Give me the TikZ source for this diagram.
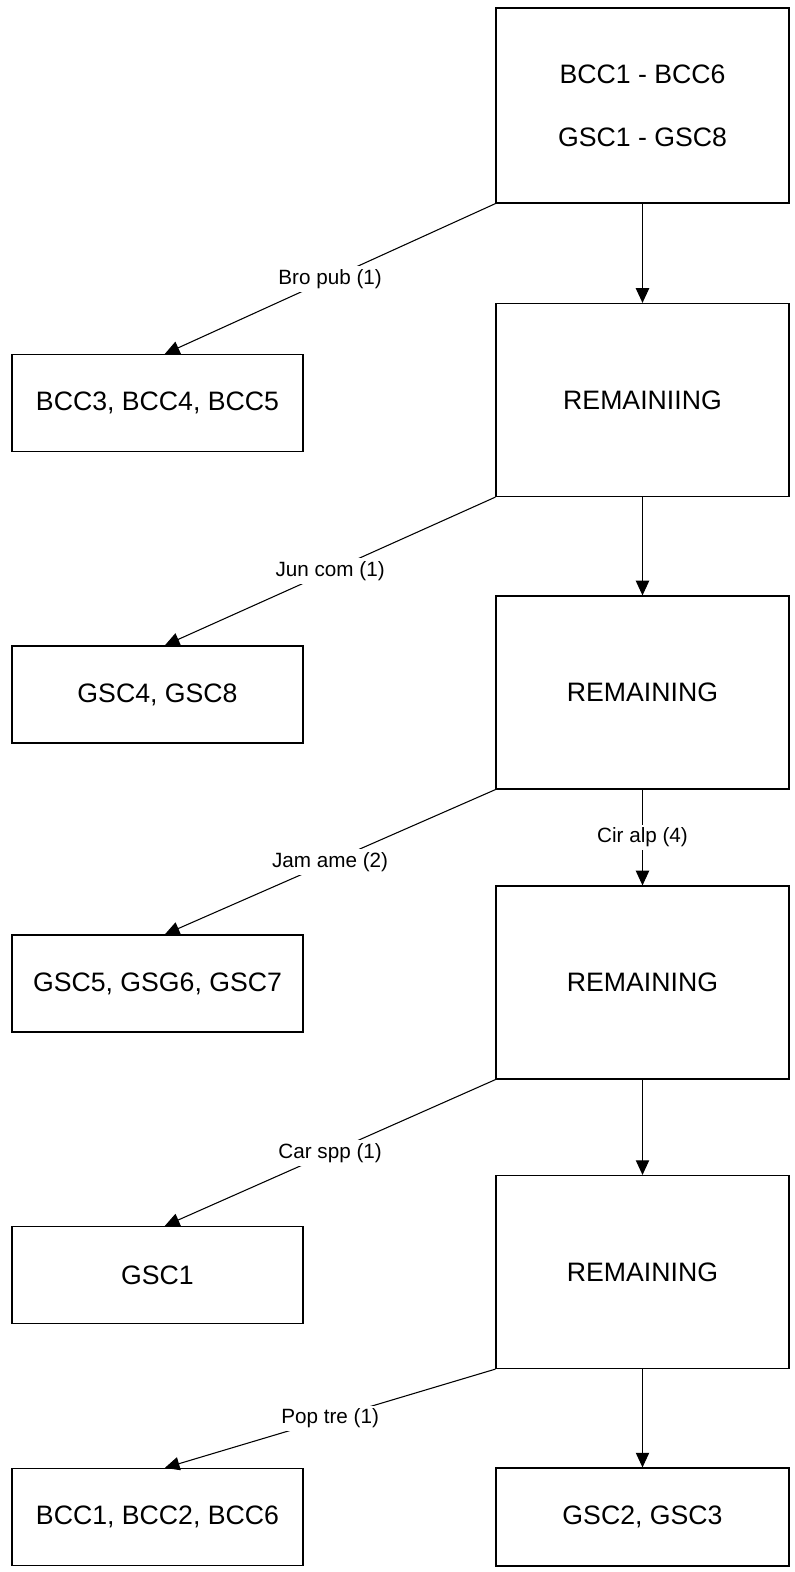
\documentclass[tikz,border=0pt]{standalone}
\usepackage{fontspec}
\setmainfont{Liberation Sans}
\usetikzlibrary{arrows.meta}

\begin{document}
\begin{tikzpicture}[x=0.75pt,y=-0.75pt]
  \tikzstyle{bigbox}=[draw,line width=0.9pt,minimum width=219.75pt,minimum height=144.75pt,font=\fontsize{20}{24}\selectfont]
  \tikzstyle{smallbox}=[draw,line width=0.9pt,minimum width=218.25pt,minimum height=72.75pt,font=\fontsize{20}{24}\selectfont]
  \tikzstyle{edgelabel}=[fill=white,inner sep=2.5pt,font=\fontsize{15.5}{18}\selectfont]
  \tikzstyle{arr}=[line width=0.8pt,-{Triangle[length=11pt,width=10pt]}]
  \useasboundingbox (0,0) rectangle (794,1572);
  % right column
  \node[bigbox,minimum height=146.25pt,align=center,font=\fontsize{20}{47}\selectfont] (all) at (642.5,105.5) {BCC1 - BCC6\\GSC1 - GSC8};
  \foreach \n/\y/\t in {r1/400/REMAINIING,r2/692.5/REMAINING,r3/982.5/REMAINING,r4/1272/REMAINING}
     \node[bigbox] (\n) at (642.5,\y) {\t};
  \node[smallbox,minimum width=219.75pt,minimum height=73.5pt] (last) at (642.5,1517) {GSC2, GSC3};
  % left column
  \foreach \n/\y/\t in {l1/403/{BCC3, BCC4, BCC5},l2/694.5/{GSC4, GSC8},l3/983.5/{GSC5, GSG6, GSC7},l4/1275/{GSC1},l5/1517/{BCC1, BCC2, BCC6}}
     \node[smallbox] (\n) at (157.5,\y) {\t};
  % splits
  \foreach \a/\b/\t in {all/l1/{Bro pub (1)},r1/l2/{Jun com (1)},r2/l3/{Jam ame (2)},r3/l4/{Car spp (1)},r4/l5/{Pop tre (1)}}
     \draw[arr] (\a.south west) -- node[edgelabel] {\t} ([xshift=5.5pt]\b.north);
  \draw[arr] (all) -- (r1);
  \draw[arr] (r1) -- (r2);
  \draw[arr] (r2) -- node[edgelabel] {Cir alp (4)} (r3);
  \draw[arr] (r3) -- (r4);
  \draw[arr] (r4) -- (last);
\end{tikzpicture}
\end{document}
